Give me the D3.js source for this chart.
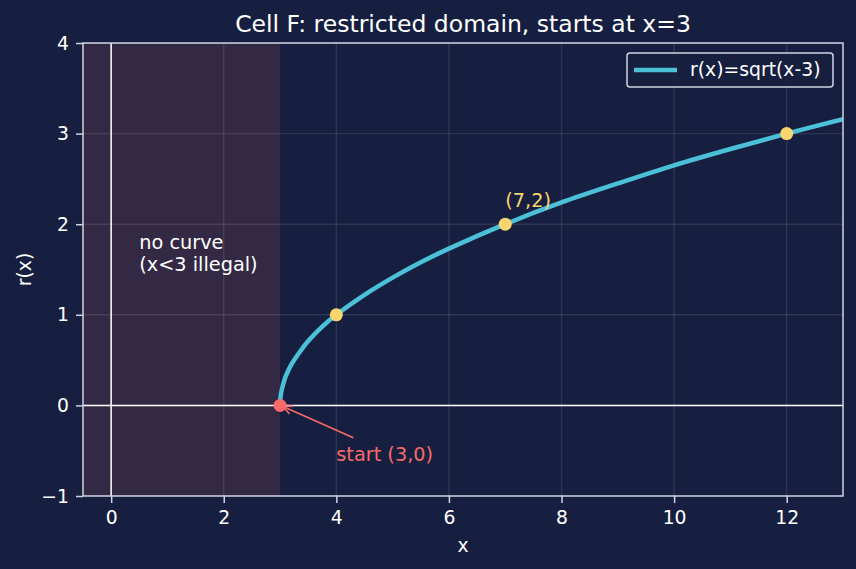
<!DOCTYPE html>
<html>
<head>
<meta charset="utf-8">
<script src="https://cdn.jsdelivr.net/npm/d3@7"></script>
<style>
  body { margin: 0; background: #161f3f; }
  svg { display: block; font-family: "DejaVu Sans", sans-serif; }
</style>
</head>
<body>
<svg id="chart" width="856" height="569"></svg>
<script>
// curve samples
const curveX = [3, 3.005, 3.02, 3.05, 3.1, 3.2, 3.35, 3.5, 3.75, 4, 4.5, 5, 5.5, 6, 7, 8, 9, 10, 11, 12, 13];
const curveY = [0, 0.07, 0.14, 0.22, 0.32, 0.45, 0.59, 0.71, 0.87, 1, 1.22, 1.41, 1.58, 1.73, 2, 2.24, 2.45, 2.65, 2.83, 3, 3.16];
// marked points
const markX = [4, 7, 12];
const markY = [1, 2, 3];
const startPt = [3, 0];
// axis ticks
const xTicks = [0, 2, 4, 6, 8, 10, 12];
const yTicks = [-1, 0, 1, 2, 3, 4];
const shadeRange = [-0.5, 3];

const bg = "#161f3f";
const spineColor = "#cfd3e3";
const fs = 18.8;

const svg = d3.select("#chart");
const margin = { left: 83, right: 13, top: 43, bottom: 73 };
const W = 856, H = 569;

const x = d3.scaleLinear().domain([-0.5, 13]).range([margin.left, W - margin.right]);
const y = d3.scaleLinear().domain([-1, 4]).range([H - margin.bottom, margin.top]);

svg.append("rect").attr("width", W).attr("height", H).attr("fill", bg);

svg.append("defs").append("clipPath").attr("id", "clip")
  .append("rect")
  .attr("x", x.range()[0]).attr("y", y.range()[1])
  .attr("width", x.range()[1] - x.range()[0])
  .attr("height", y.range()[0] - y.range()[1]);

const plot = svg.append("g").attr("clip-path", "url(#clip)");

// shaded illegal region
plot.append("rect")
  .attr("x", x(shadeRange[0])).attr("width", x(shadeRange[1]) - x(shadeRange[0]))
  .attr("y", y(4)).attr("height", y(-1) - y(4))
  .attr("fill", "#ff6b6b").attr("fill-opacity", 0.13);

// grid
plot.selectAll(".gx").data(xTicks).join("line")
  .attr("x1", d => x(d)).attr("x2", d => x(d))
  .attr("y1", y(4)).attr("y2", y(-1))
  .attr("stroke", "#ffffff").attr("stroke-opacity", 0.1).attr("stroke-width", 1.4);
plot.selectAll(".gy").data(yTicks).join("line")
  .attr("y1", d => y(d)).attr("y2", d => y(d))
  .attr("x1", x(-0.5)).attr("x2", x(13))
  .attr("stroke", "#ffffff").attr("stroke-opacity", 0.1).attr("stroke-width", 1.4);

// zero lines
plot.append("line").attr("x1", x(0)).attr("x2", x(0)).attr("y1", y(4)).attr("y2", y(-1))
  .attr("stroke", "#ffffff").attr("stroke-width", 1.5);
plot.append("line").attr("y1", y(0)).attr("y2", y(0)).attr("x1", x(-0.5)).attr("x2", x(13))
  .attr("stroke", "#ffffff").attr("stroke-width", 1.5);

// the curve
const line = d3.line()
  .x(d => x(d[0])).y(d => y(d[1]))
  .curve(d3.curveCatmullRom);
plot.append("path")
  .datum(curveX.map((v, i) => [v, curveY[i]]))
  .attr("d", line)
  .attr("fill", "none").attr("stroke", "#4cc0d8").attr("stroke-width", 4.5);

// yellow points
plot.selectAll(".pt").data(markX.map((v, i) => [v, markY[i]])).join("circle")
  .attr("cx", d => x(d[0])).attr("cy", d => y(d[1])).attr("r", 6.5)
  .attr("fill", "#f9d56e");

// start point
plot.append("circle").attr("cx", x(startPt[0])).attr("cy", y(startPt[1])).attr("r", 6.5)
  .attr("fill", "#f56a6a");

// spines
svg.append("rect")
  .attr("x", x.range()[0]).attr("y", y.range()[1])
  .attr("width", x.range()[1] - x.range()[0])
  .attr("height", y.range()[0] - y.range()[1])
  .attr("fill", "none").attr("stroke", spineColor).attr("stroke-width", 1.5);

// axes
const xAxis = svg.append("g").attr("transform", `translate(0,${y(-1)})`)
  .call(d3.axisBottom(x).tickValues(xTicks).tickSize(7).tickPadding(8).tickFormat(d3.format("d")));
const yAxis = svg.append("g").attr("transform", `translate(${x(-0.5)},0)`)
  .call(d3.axisLeft(y).tickValues(yTicks).tickSize(7).tickPadding(7)
    .tickFormat(d => d < 0 ? "\u2212" + Math.abs(d) : d));
[xAxis, yAxis].forEach(a => {
  a.select(".domain").remove();
  a.selectAll(".tick line").attr("stroke", spineColor).attr("stroke-width", 1.5);
  a.selectAll(".tick text").attr("fill", "#ffffff").attr("font-size", fs)
    .attr("font-family", "DejaVu Sans, sans-serif");
});

// titles
svg.append("text").attr("x", (x.range()[0] + x.range()[1]) / 2).attr("y", 32)
  .attr("text-anchor", "middle").attr("fill", "#ffffff").attr("font-size", 23.5)
  .text("Cell F: restricted domain, starts at x=3");
svg.append("text").attr("x", (x.range()[0] + x.range()[1]) / 2).attr("y", 552)
  .attr("text-anchor", "middle").attr("fill", "#ffffff").attr("font-size", fs)
  .text("x");
svg.append("text")
  .attr("transform", `translate(31,${(y.range()[0] + y.range()[1]) / 2}) rotate(-90)`)
  .attr("text-anchor", "middle").attr("fill", "#ffffff").attr("font-size", fs)
  .text("r(x)");

// annotations
const note = svg.append("text").attr("fill", "#ffffff").attr("font-size", 19.3);
note.append("tspan").attr("x", x(0.5)).attr("y", y(1.5) - 21).text("no curve");
note.append("tspan").attr("x", x(0.5)).attr("y", y(1.5) + 1).text("(x<3 illegal)");

svg.append("text").attr("x", x(7)).attr("y", y(2.2) + 1)
  .attr("fill", "#f9d56e").attr("font-size", 19.3).text("(7,2)");

svg.append("text").attr("x", x(4)).attr("y", y(-0.6) + 1)
  .attr("fill", "#f56a6a").attr("font-size", 19.3).text("start (3,0)");

// arrow from label to start point
const ax0 = x(4) + 17, ay0 = y(-0.6) - 22;
const ax1 = x(3) + 3, ay1 = y(0) + 1;
svg.append("line").attr("x1", ax0).attr("y1", ay0).attr("x2", ax1).attr("y2", ay1)
  .attr("stroke", "#f56a6a").attr("stroke-width", 1.6);
const ang = Math.atan2(ay0 - ay1, ax0 - ax1);
const hl = 10, hw = 0.45;
svg.append("path")
  .attr("d", `M${ax1 + hl * Math.cos(ang - hw)},${ay1 + hl * Math.sin(ang - hw)} L${ax1},${ay1} L${ax1 + hl * Math.cos(ang + hw)},${ay1 + hl * Math.sin(ang + hw)}`)
  .attr("fill", "none").attr("stroke", "#f56a6a").attr("stroke-width", 1.6);

// legend
const lg = svg.append("g").attr("transform", "translate(627,53)");
lg.append("rect").attr("width", 206).attr("height", 34).attr("rx", 3)
  .attr("fill", bg).attr("fill-opacity", 0.8)
  .attr("stroke", spineColor).attr("stroke-width", 1.5);
lg.append("line").attr("x1", 7).attr("x2", 50).attr("y1", 17).attr("y2", 17)
  .attr("stroke", "#4cc0d8").attr("stroke-width", 4.5);
lg.append("text").attr("x", 63).attr("y", 23).attr("fill", "#ffffff").attr("font-size", fs)
  .text("r(x)=sqrt(x-3)");
</script>
</body>
</html>
